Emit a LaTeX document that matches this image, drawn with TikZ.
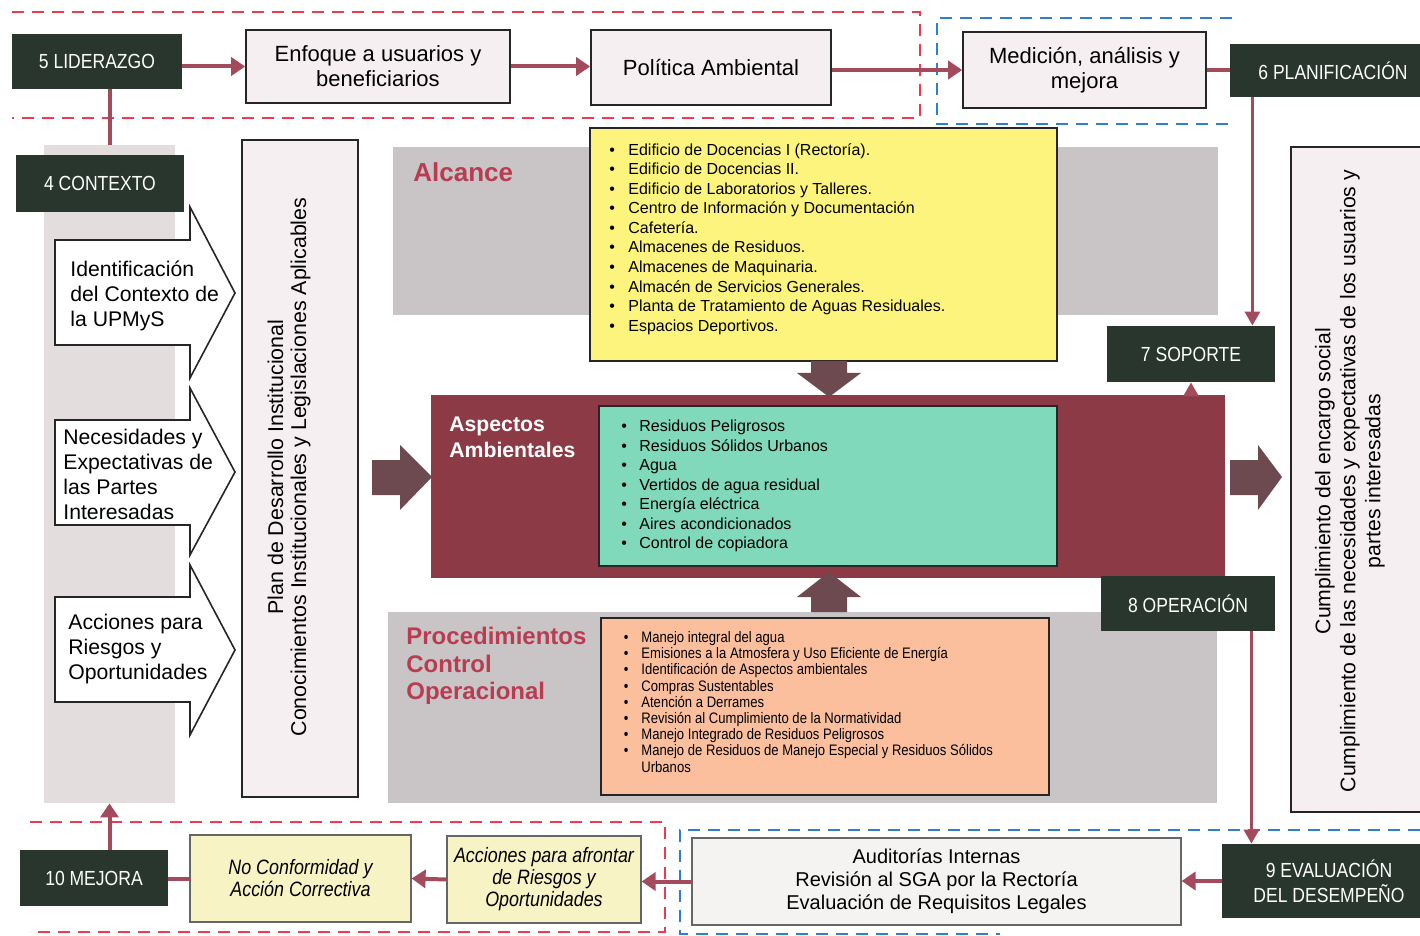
\documentclass[tikz,border=0pt]{standalone}
\usepackage{fontspec}
\setmainfont{Liberation Sans}
\newfontfamily\narrowfont[FakeStretch=0.86]{Liberation Sans}
\usetikzlibrary{arrows.meta, calc}

\definecolor{darkg}{HTML}{28362E}
\definecolor{pinkf}{HTML}{F6EFF1}
\definecolor{stripg}{HTML}{E4DDDE}
\definecolor{panelg}{HTML}{C9C4C5}
\definecolor{yellowf}{HTML}{FCF47C}
\definecolor{maroonf}{HTML}{8C3A45}
\definecolor{tealf}{HTML}{80D9BB}
\definecolor{orangef}{HTML}{FBBF9E}
\definecolor{lyellow}{HTML}{F8F3C4}
\definecolor{audf}{HTML}{F5F2F2}
\definecolor{titlered}{HTML}{B83C52}
\definecolor{blockc}{HTML}{6D4A50}
\definecolor{connc}{HTML}{A34A5C}
\definecolor{dashred}{HTML}{EE3A4A}
\definecolor{dashblue}{HTML}{2F7FD0}

\newcommand\bul[1]{\makebox[#1][l]{\textbullet}}

\begin{document}
\begin{tikzpicture}[
    x=0.5pt,
    y=-0.5pt,
    darkbox/.style={fill=darkg, text=white, align=center, inner sep=0,
      font=\narrowfont\fontsize{10.2}{12.5}\selectfont},
    pinkbox/.style={draw=black!85, line width=0.8pt, fill=pinkf, align=center,
      inner sep=0, font=\fontsize{11}{12.5}\selectfont},
    ybox/.style={draw=black!60, line width=0.6pt, fill=lyellow, align=center,
      inner sep=0, font=\narrowfont\itshape\fontsize{10.4}{11}\selectfont},
    panel/.style={fill=#1, inner sep=0},
    listbox/.style={draw=black!85, line width=0.8pt, fill=#1, inner sep=0},
    listtext/.style={anchor=north west, align=left, inner sep=0},
    whitearrow/.style={draw=black!85, line width=0.8pt, fill=white},
    arrowtext/.style={anchor=north west, align=left, inner sep=0,
      font=\fontsize{10.6}{12.5}\selectfont},
    conn/.style={draw=connc, line width=2pt, -{Triangle[width=9pt,length=7pt]}},
    connline/.style={draw=connc, line width=2pt},
    thinconn/.style={draw=connc, line width=1.5pt, -{Triangle[width=7.5pt,length=7pt]}},
    reddash/.style={draw=dashred, line width=1.4pt, dash pattern=on 6pt off 4pt},
    bluedash/.style={draw=dashblue, line width=1.4pt, dash pattern=on 6pt off 4pt}]
   \clip (0,0) rectangle (1420,936);
   \fill[white] (0,0) rectangle (1420,936);

   % dashed frames
   \draw[reddash]  (12,12) -- (920,12) -- (920,118) -- (12,118);
   \draw[bluedash] (1232,18) -- (937,18) -- (937,124) -- (1232,124);
   \draw[reddash]  (30,822) -- (665,822) -- (665,932) -- (30,932);
   \draw[bluedash] (1420,830) -- (680,830) -- (680,934) -- (1000,934);

   % background panels
   \node[panel=stripg, minimum width=65.5pt, minimum height=329pt] (strip) at (109.5,474) {};
   \node[panel=panelg, minimum width=412.5pt, minimum height=84pt] (alcp) at (805.5,231) {};
   \node[panel=maroonf, minimum width=397pt, minimum height=91.5pt] (aspp) at (828,486.5) {};
   \node[panel=panelg, minimum width=414.5pt, minimum height=95.5pt] (procp) at (802.5,707.5) {};

   \node[anchor=base west, inner sep=0, text=titlered, font=\bfseries\fontsize{13}{15}\selectfont]
     (alct) at (413,182) {Alcance};
   \node[anchor=north west, align=left, inner sep=0, text=white, font=\bfseries\fontsize{10.6}{13}\selectfont]
     (aspt) at (449,417) {Aspectos\\Ambientales};
   \node[anchor=north west, align=left, inner sep=0, text=titlered, font=\bfseries\fontsize{12}{13.8}\selectfont]
     (proct) at (406,627) {Procedimientos\\Control\\Operacional};

   % lists
   \node[listbox=yellowf, minimum width=233.5pt, minimum height=116.5pt] (yel) at (823.5,244.5) {};
   \node[listtext, font=\fontsize{8}{9.78}\selectfont] (yellist) at (609,143) {%
     \bul{9.5pt}Edificio de Docencias I (Rectoría).\\
     \bul{9.5pt}Edificio de Docencias II.\\
     \bul{9.5pt}Edificio de Laboratorios y Talleres.\\
     \bul{9.5pt}Centro de Información y Documentación\\
     \bul{9.5pt}Cafetería.\\
     \bul{9.5pt}Almacenes de Residuos.\\
     \bul{9.5pt}Almacenes de Maquinaria.\\
     \bul{9.5pt}Almacén de Servicios Generales.\\
     \bul{9.5pt}Planta de Tratamiento de Aguas Residuales.\\
     \bul{9.5pt}Espacios Deportivos.};

   \node[listbox=tealf, minimum width=229pt, minimum height=80pt] (teal) at (828,486) {};
   \node[listtext, font=\fontsize{8}{9.75}\selectfont] (teallist) at (621,420) {%
     \bul{9pt}Residuos Peligrosos\\
     \bul{9pt}Residuos Sólidos Urbanos\\
     \bul{9pt}Agua\\
     \bul{9pt}Vertidos de agua residual\\
     \bul{9pt}Energía eléctrica\\
     \bul{9pt}Aires acondicionados\\
     \bul{9pt}Control de copiadora};

   \node[listbox=orangef, minimum width=224pt, minimum height=88.5pt] (ora) at (825,706.5) {};
   \node[listtext, font=\narrowfont\fontsize{7.6}{8.1}\selectfont] (oralist) at (623.5,631) {%
     \bul{8.75pt}Manejo integral del agua\\
     \bul{8.75pt}Emisiones a la Atmosfera y Uso Eficiente de Energía\\
     \bul{8.75pt}Identificación de Aspectos ambientales\\
     \bul{8.75pt}Compras Sustentables\\
     \bul{8.75pt}Atención a Derrames\\
     \bul{8.75pt}Revisión al Cumplimiento de la Normatividad\\
     \bul{8.75pt}Manejo Integrado de Residuos Peligrosos\\
     \bul{8.75pt}Manejo de Residuos de Manejo Especial y Residuos Sólidos\\
     \hspace*{8.75pt}Urbanos};

   % block arrows
   \fill[blockc] (811,361) -- (847,361) -- (847,373) -- (861,373) -- (829,397)
     -- (797,373) -- (811,373) -- cycle;
   \fill[blockc] (811,612) -- (847,612) -- (847,597) -- (861,597) -- (829,572)
     -- (797,597) -- (811,597) -- cycle;
   \fill[blockc] (372,460) -- (400,460) -- (400,445) -- (432,477) -- (400,510)
     -- (400,495) -- (372,495) -- cycle;
   \fill[blockc] (1230,460) -- (1258,460) -- (1258,445) -- (1282,477) -- (1258,510)
     -- (1258,495) -- (1230,495) -- cycle;

   % context arrows
   \draw[whitearrow] (55,240) -- (190,240) -- (190,207) -- (235,293) -- (190,378)
     -- (190,345) -- (55,345) -- cycle;
   \draw[whitearrow] (55,420) -- (190,420) -- (190,388) -- (235,472) -- (190,555)
     -- (190,525) -- (55,525) -- cycle;
   \draw[whitearrow] (55,597) -- (190,597) -- (190,565) -- (235,650) -- (190,735)
     -- (190,702) -- (55,702) -- cycle;
   \node[arrowtext] (ident) at (70,260) {Identificación\\del Contexto de\\la UPMyS};
   \node[arrowtext] (neces) at (63,429) {Necesidades y\\Expectativas de\\las Partes\\Interesadas};
   \node[arrowtext] (accio) at (68,614) {Acciones para\\Riesgos y\\Oportunidades};

   % vertical boxes
   \node[pinkbox, minimum width=58pt, minimum height=328.5pt] (pdi) at (300,468.5) {};
   \node[rotate=90, align=center, inner sep=0, font=\fontsize{10.7}{11.5}\selectfont]
     (pditxt) at (289,467) {Plan de Desarrollo Institucional\\
     Conocimientos Institucionales y Legislaciones Aplicables};
   \node[pinkbox, minimum width=72.5pt, minimum height=332.5pt] (cump) at (1363.5,479.5) {};
   \node[rotate=90, align=center, inner sep=0, font=\fontsize{10.6}{12.5}\selectfont]
     (cumptxt) at (1350,481) {Cumplimiento del encargo social\\
     Cumplimiento de las necesidades y expectativas de los usuarios y\\
     partes interesadas};

   % top row
   \node[pinkbox, minimum width=132pt, minimum height=36.5pt] (enf) at (378,66.5) {Enfoque a usuarios y\\beneficiarios};
   \node[pinkbox, minimum width=120pt, minimum height=37.5pt] (pol) at (711,67.5) {Política Ambiental};
   \node[pinkbox, minimum width=121.5pt, minimum height=38pt] (med) at (1084.5,70) {Medición, análisis y\\mejora};

   % bottom row
   \node[ybox, minimum width=110.5pt, minimum height=43.5pt] (noconf) at (300.5,878.5) {No Conformidad y\\Acción Correctiva};
   \node[ybox, minimum width=97pt, minimum height=43.5pt] (accr) at (544,879.5) {Acciones para afrontar\\de Riesgos y\\Oportunidades};
   \node[draw=black!60, line width=0.6pt, fill=audf, align=center, inner sep=0,
     font=\fontsize{10}{11.5}\selectfont, minimum width=244.5pt, minimum height=43.5pt]
     (aud) at (936.5,881.5) {Auditorías Internas\\Revisión al SGA por la Rectoría\\Evaluación de Requisitos Legales};

   % clauses
   \node[darkbox, minimum width=85pt, minimum height=27.5pt] (lid) at (97,61.5) {5 LIDERAZGO};
   \node[darkbox, minimum width=84pt, minimum height=28.5pt] (cont) at (100,183.5) {4 CONTEXTO};
   \node[darkbox, minimum width=103pt, minimum height=26.5pt] (plan) at (1333,70.5) {6 PLANIFICACIÓN};
   \node[darkbox, minimum width=84pt, minimum height=28pt] (sop) at (1191,354) {7 SOPORTE};
   \node[darkbox, minimum width=87pt, minimum height=27.5pt] (oper) at (1188,603.5) {8 OPERACIÓN};
   \node[darkbox, minimum width=107pt, minimum height=37pt] (eval) at (1329,881) {9 EVALUACIÓN\\DEL DESEMPEÑO};
   \node[darkbox, minimum width=74pt, minimum height=28pt] (mej) at (94,878) {10 MEJORA};

   % connectors
   \coordinate (ps) at ($(sop.north east)+(-23,0)$);
   \coordinate (oe) at ($(oper.south east)+(-24,0)$);
   \draw[conn] (lid.east |- enf.west) -- (enf.west);
   \draw[conn] (enf.east) -- (enf.east -| pol.west);
   \draw[conn] (med.west -| pol.east) -- (med.west);
   \draw[connline] (plan.west |- med.east) -- (med.east);
   \draw[thinconn] (plan.south -| ps) -- (ps);
   \draw[thinconn] (sop.south |- aspp.north) -- (sop.south);
   \draw[thinconn] (oe) -- (oe |- eval.north);
   \draw[conn] (eval.west) -- (eval.west -| aud.east);
   \draw[conn] (aud.west) -- (aud.west -| accr.east);
   \draw[conn] (accr.west) -- (noconf.east);
   \draw[connline] (noconf.west) -- (noconf.west -| mej.east);
   \draw[conn] (strip.south |- mej.north) -- (strip.south);
   \draw[connline] (lid.south -| strip.north) -- (strip.north);
\end{tikzpicture}
\end{document}
